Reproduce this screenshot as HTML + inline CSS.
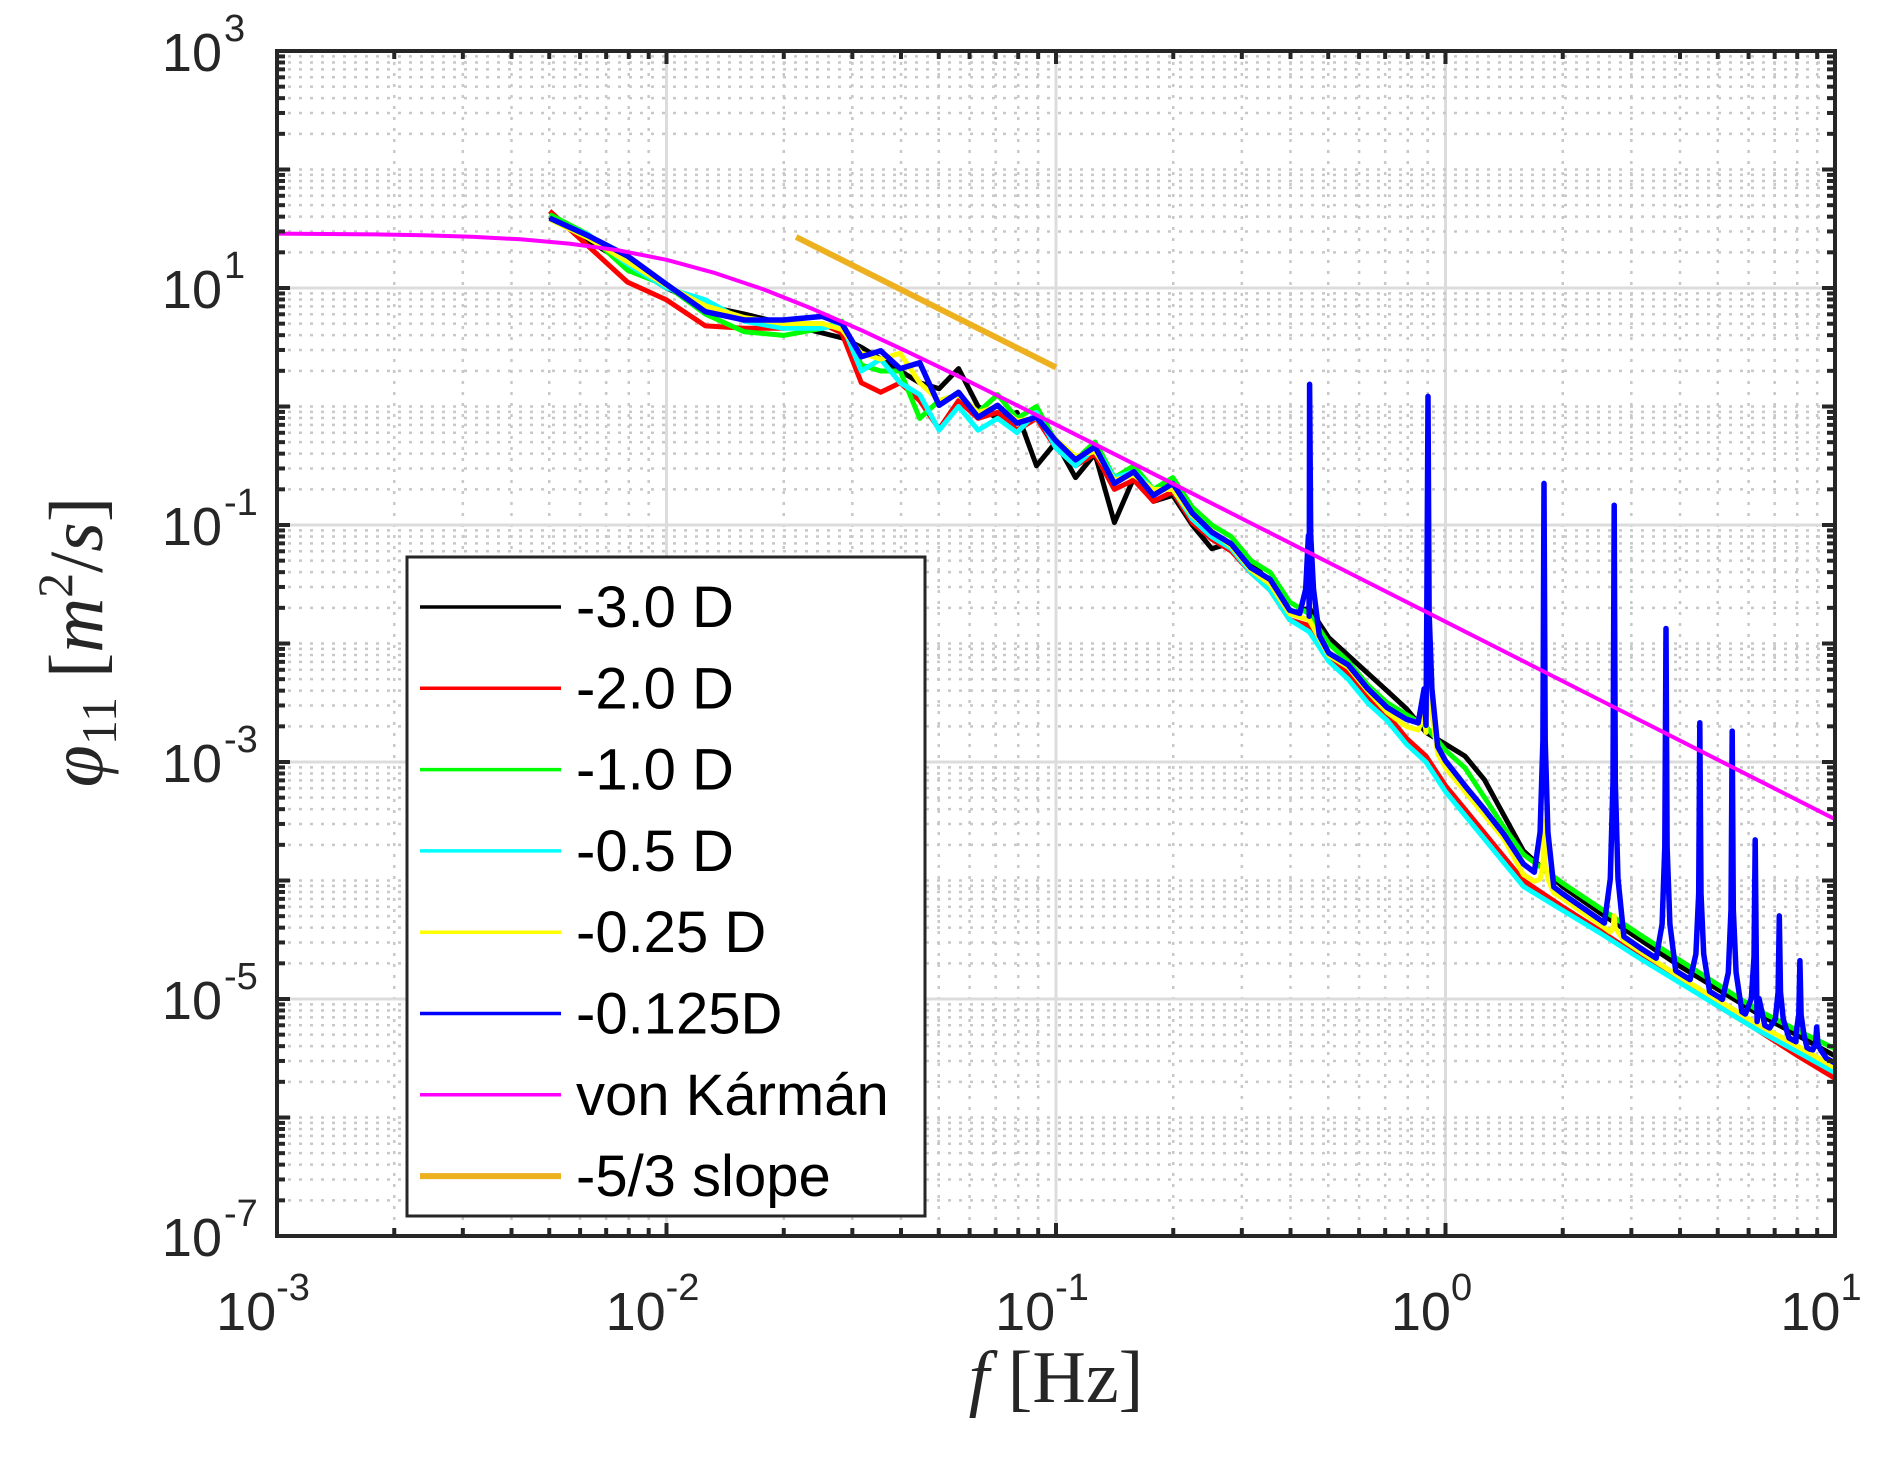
<!DOCTYPE html>
<html><head><meta charset="utf-8"><style>
html,body{margin:0;padding:0;background:#fff;}
svg{display:block;}
</style></head><body>
<svg id="chart" width="1892" height="1459" viewBox="0 0 1892 1459" xmlns="http://www.w3.org/2000/svg">
<rect x="0" y="0" width="1892" height="1459" fill="#fff"/>
<g id="grid"></g>
<g id="series"></g>
<rect x="277" y="51" width="1558" height="1185" fill="none" stroke="#262626" stroke-width="4"/>
<g id="ticks"></g>
<g id="labels" font-family="Liberation Sans, sans-serif" fill="#262626"></g>
<text x="1056" y="1402" text-anchor="middle" font-family="Liberation Serif, serif" font-size="74" fill="#262626"><tspan font-style="italic">f</tspan>  [Hz]</text>
<text transform="translate(102,642) rotate(-90)" text-anchor="middle" font-family="Liberation Serif, serif" font-size="76" fill="#262626"><tspan font-style="italic">φ</tspan><tspan font-size="50" dy="14">11</tspan><tspan dy="-14">  [</tspan><tspan font-style="italic">m</tspan><tspan font-size="50" dy="-30">2</tspan><tspan dy="30">/</tspan><tspan font-style="italic">s</tspan>]</text>
<g id="legend">
<rect x="407" y="557" width="518" height="659" fill="#fff" stroke="#262626" stroke-width="3"/>
</g>
</svg>
<script>
// ---- data (log10 values) ----
const gridF = [-2.3,-2.2,-2.1,-2.0,-1.9,-1.8,-1.7,-1.6,-1.55,-1.5,-1.45,-1.4,-1.35,-1.3,-1.25,-1.2,-1.15,-1.1,-1.05,-1.0,-0.95,-0.9,-0.85,-0.8,-0.75,-0.7,-0.65,-0.6,-0.55,-0.5,-0.45,-0.4,-0.35,-0.3,-0.25,-0.2,-0.15,-0.1,-0.05,0,0.05,0.1,0.15,0.2,0.3,0.4,0.5,0.6,0.7,0.8,0.9,1.0];
const pBlack = [1.60,1.40,1.20,1.00,0.85,0.78,0.70,0.62,0.58,0.50,0.40,0.30,0.20,0.15,0.32,0.00,-0.10,-0.05,-0.50,-0.30,-0.60,-0.40,-0.98,-0.60,-0.80,-0.75,-1.00,-1.20,-1.15,-1.30,-1.50,-1.75,-1.70,-1.95,-2.10,-2.25,-2.40,-2.55,-2.75,-2.85,-2.95,-3.15,-3.45,-3.75,-4.05,-4.28,-4.50,-4.72,-4.92,-5.12,-5.30,-5.48];
const pRed = [1.65,1.35,1.05,0.90,0.68,0.66,0.66,0.70,0.62,0.20,0.12,0.20,0.05,-0.19,0.05,-0.10,-0.05,-0.20,-0.10,-0.35,-0.50,-0.40,-0.70,-0.62,-0.80,-0.72,-0.98,-1.12,-1.22,-1.40,-1.55,-1.80,-1.85,-2.10,-2.25,-2.45,-2.60,-2.80,-2.95,-3.20,-3.40,-3.60,-3.80,-4.00,-4.22,-4.43,-4.65,-4.85,-5.06,-5.26,-5.47,-5.67];
const pGreen = [1.62,1.45,1.15,1.02,0.78,0.63,0.60,0.66,0.72,0.35,0.30,0.30,-0.10,0.05,0.10,-0.05,0.10,-0.10,0.00,-0.30,-0.45,-0.30,-0.60,-0.50,-0.70,-0.60,-0.85,-1.00,-1.10,-1.30,-1.40,-1.65,-1.75,-2.00,-2.15,-2.35,-2.50,-2.60,-2.70,-2.90,-3.05,-3.30,-3.55,-3.78,-4.02,-4.24,-4.46,-4.67,-4.88,-5.09,-5.26,-5.42];
const pCyan = [1.58,1.45,1.20,1.00,0.90,0.72,0.66,0.66,0.70,0.30,0.40,0.20,0.10,-0.20,0.00,-0.20,-0.10,-0.22,-0.05,-0.35,-0.50,-0.35,-0.60,-0.55,-0.70,-0.70,-0.95,-1.10,-1.20,-1.40,-1.55,-1.80,-1.90,-2.15,-2.30,-2.50,-2.65,-2.85,-3.00,-3.25,-3.45,-3.65,-3.85,-4.05,-4.25,-4.45,-4.66,-4.86,-5.06,-5.26,-5.44,-5.62];
const pYellow = [1.58,1.42,1.22,1.02,0.85,0.75,0.70,0.70,0.65,0.45,0.40,0.45,0.20,0.05,0.10,-0.05,0.00,-0.12,-0.10,-0.28,-0.42,-0.38,-0.62,-0.58,-0.70,-0.70,-0.92,-1.05,-1.18,-1.38,-1.50,-1.75,-1.80,-2.10,-2.20,-2.40,-2.58,-2.70,-2.75,-3.05,-3.25,-3.45,-3.65,-3.95,-4.15,-4.38,-4.60,-4.81,-5.01,-5.21,-5.39,-5.58];
const pBlue = [1.59,1.44,1.27,1.03,0.80,0.73,0.73,0.76,0.70,0.42,0.47,0.32,0.37,0.01,0.12,-0.09,0.01,-0.14,-0.09,-0.29,-0.45,-0.34,-0.65,-0.55,-0.75,-0.65,-0.90,-1.06,-1.16,-1.36,-1.46,-1.72,-1.77,-2.08,-2.18,-2.38,-2.54,-2.64,-2.69,-2.99,-3.20,-3.40,-3.61,-3.86,-4.11,-4.34,-4.57,-4.78,-4.98,-5.19,-5.36,-5.54];
const peakFBlue = [-0.349,-0.045,0.253,0.433,0.566,0.653,0.736,0.795,0.857,0.910,0.953];
const peakPBlue = [0.187,0.085,-0.649,-0.833,-1.873,-2.668,-2.739,-3.657,-4.299,-4.676,-5.236];
const peakFYellow = [-0.045,0.253,0.433];
const peakPYellow = [-1.30,-3.50,-4.30];
const vkF = [-3,-2.875,-2.75,-2.625,-2.5,-2.375,-2.25,-2.125,-2,-1.875,-1.75,-1.625,-1.5,-1.375,-1.25,-1.125,-1,-0.875,-0.75,-0.5,-0.25,0,0.25,0.5,0.75,1];
const vkP = [1.459,1.456,1.452,1.445,1.432,1.411,1.375,1.319,1.238,1.126,0.987,0.824,0.644,0.452,0.255,0.051,-0.154,-0.360,-0.568,-0.984,-1.400,-1.816,-2.233,-2.650,-3.066,-3.483];
const slopeF = [-1.667,-1.0];
const slopeP = [1.43,0.33];
const xTickExp = [-3,-2,-1,0,1];
const yTickExp = [3,1,-1,-3,-5,-7];
const legendLabels = ['-3.0 D','-2.0 D','-1.0 D','-0.5 D','-0.25 D','-0.125D','von Kármán','-5/3 slope'];

// ---- axes ----
const L=277,R=1835,T=51,B=1236;
const xS = lf => L + (lf+3)/4*(R-L);
const yS = lp => T + (3-lp)/10*(B-T);
const NS='http://www.w3.org/2000/svg';
function mk(tag, attrs, parent){const e=document.createElementNS(NS,tag);for(const k in attrs)e.setAttribute(k,attrs[k]);parent.appendChild(e);return e;}

const gridG=document.getElementById('grid'), tickG=document.getElementById('ticks'), labG=document.getElementById('labels');
for(let d=-3;d<=1;d++){
  for(let m=1;m<=9;m++){
    if(d===1&&m>1)break;
    const lf=d+Math.log10(m), x=xS(lf);
    const ln=mk('line',{x1:x,x2:x,y1:T,y2:B,stroke:m===1?'#dcdcdc':'#c8c8c8','stroke-width':m===1?3:2.5,'stroke-dasharray':m===1?'':'3 8'},gridG);
    
    
    const len=m===1?13:8;
    const t1=mk('line',{x1:x,x2:x,y1:B,y2:B-len,stroke:'#262626','stroke-width':4},tickG);
    
    
    mk('line',{x1:x,x2:x,y1:T,y2:T+len,stroke:'#262626','stroke-width':4},tickG);
  }
}
for(let d=-7;d<=3;d++){
  for(let m=1;m<=9;m++){
    if(d===3&&m>1)break;
    const lp=d+Math.log10(m), y=yS(lp);
    const major=(m===1&&d%2!==0);
    const ln=mk('line',{x1:L,x2:R,y1:y,y2:y,stroke:major?'#dcdcdc':'#c8c8c8','stroke-width':major?3:2.5,'stroke-dasharray':major?'':'3 8'},gridG);
    
    
    const len=(m===1)?13:8;
    const t1=mk('line',{x1:L,x2:L+len,y1:y,y2:y,stroke:'#262626','stroke-width':4},tickG);
    
    
    mk('line',{x1:R,x2:R-len,y1:y,y2:y,stroke:'#262626','stroke-width':4},tickG);
  }
}
xTickExp.forEach(e=>{
  const t=mk('text',{x:xS(e)-14,y:1330,'text-anchor':'middle','font-size':54},labG);
  
  
  t.textContent='10';
  const s=mk('tspan',{'font-size':38,dy:-30},t); s.textContent=String(e);
});
yTickExp.forEach(e=>{
  const t=mk('text',{x:222,y:yS(e)+20,'text-anchor':'end','font-size':54},labG);
  
  
  t.textContent='10';
  const s=mk('text',{x:224,y:yS(e)-10,'text-anchor':'start','font-size':38},labG);
  
  
  s.textContent=String(e);
});

// ---- series ----
const serG=document.getElementById('series');
function withPeaks(F,P,pf,pp){
  const pts=F.map((f,i)=>[f,P[i]]);
  const interp=f=>{for(let i=0;i<F.length-1;i++){if(f>=F[i]&&f<=F[i+1]){const t=(f-F[i])/(F[i+1]-F[i]);return P[i]+t*(P[i+1]-P[i]);}}return P[P.length-1];};
  pf.forEach((f,i)=>{
    const base=interp(f), h=pp[i]-base;
    pts.push([f-0.025,interp(f-0.025)]);
    pts.push([f-0.01,base+0.12*h]);
    pts.push([f-0.003,base+0.35*h]);
    pts.push([f,pp[i]]);
    pts.push([f+0.003,base+0.35*h]);
    pts.push([f+0.01,base+0.12*h]);
    pts.push([f+0.025,interp(f+0.025)]);
  });
  pts.sort((a,b)=>a[0]-b[0]);
  return pts;
}
function drawLine(pts,color,w,name){
  const d=pts.map((p,i)=>(i?'L':'M')+xS(p[0]).toFixed(1)+','+yS(p[1]).toFixed(1)).join('');
  const el=mk('path',{d:d,fill:'none',stroke:color,'stroke-width':w,'stroke-linejoin':'round'},serG);
  
  
}
drawLine(withPeaks(gridF,pBlack,[],[]),'#000000',5,'series-minus-3-0d');
drawLine(withPeaks(gridF,pRed,[],[]),'#ff0000',5,'series-minus-2-0d');
drawLine(withPeaks(gridF,pGreen,[],[]),'#00ff00',5,'series-minus-1-0d');
drawLine(withPeaks(gridF,pCyan,[],[]),'#00ffff',5,'series-minus-0-5d');
drawLine(withPeaks(gridF,pYellow,peakFYellow,peakPYellow),'#ffff00',5,'series-minus-0-25d');
drawLine(withPeaks(gridF,pBlue,peakFBlue,peakPBlue),'#0000ff',5.5,'series-minus-0-125d');
drawLine(vkF.map((f,i)=>[f,vkP[i]]),'#ff00ff',4,'von-karman-line');
drawLine(slopeF.map((f,i)=>[f,slopeP[i]]),'#edb120',6,'slope-line');

// ---- legend ----
const legG=document.getElementById('legend');
const legColors=['#000000','#ff0000','#00ff00','#00ffff','#ffff00','#0000ff','#ff00ff','#edb120'];
const legW=[3.5,3.5,3.5,3.5,3.5,3.5,3.5,6];
legendLabels.forEach((lab,i)=>{
  const y=607+i*81.3;
  const ln=mk('line',{x1:420,x2:561,y1:y,y2:y,stroke:legColors[i],'stroke-width':legW[i]},legG);
  
  
  const t=mk('text',{x:576,y:y+20,'font-size':58,'font-family':'Liberation Sans, sans-serif',fill:'#000'},legG);
  
  
  t.textContent=lab;
});
</script>
</body></html>
